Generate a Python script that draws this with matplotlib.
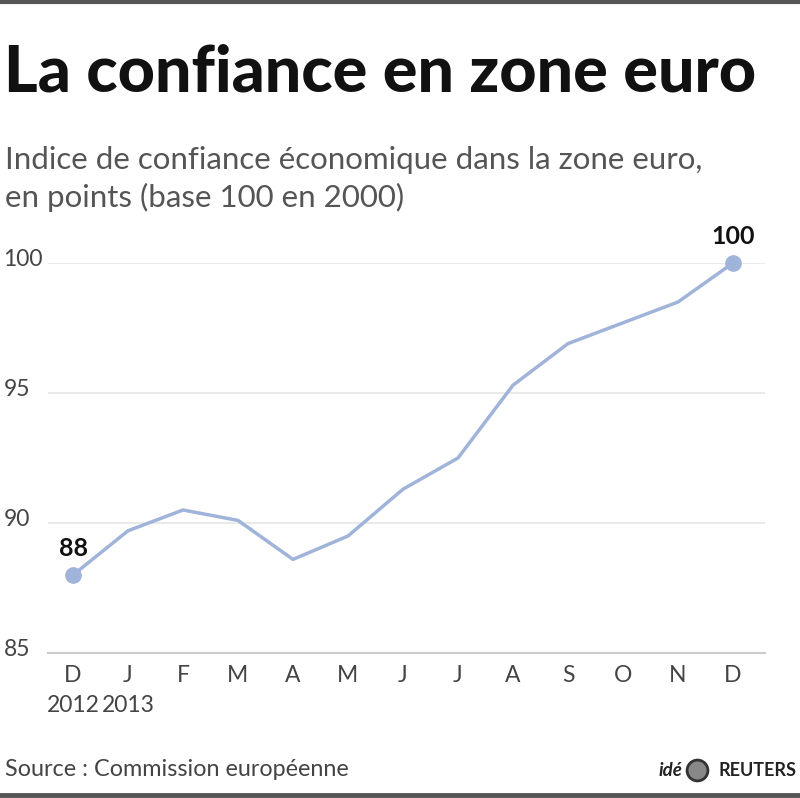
import matplotlib
matplotlib.use('Agg')
import matplotlib.pyplot as plt
import matplotlib.transforms as mtransforms
from matplotlib.lines import Line2D

months = ['D', 'J', 'F', 'M', 'A', 'M', 'J', 'J', 'A', 'S', 'O', 'N', 'D']
years = ['2012', '2013', '', '', '', '', '', '', '', '', '', '', '']
values = [88.0, 89.7, 90.5, 90.1, 88.6, 89.5, 91.3, 92.5, 95.3, 96.9, 97.7, 98.5, 100.0]
yticks = [85, 90, 95, 100]

plt.rcParams['font.family'] = ['Lato', 'DejaVu Sans']

fig = plt.figure(figsize=(8, 7.98), dpi=100)
W, H = 800, 798

# axes placed in pixel terms
left, right, bottom, top = 48, 765, 653, 263
ax = fig.add_axes([left / W, (H - bottom) / H, (right - left) / W, (bottom - top) / H])

x = list(range(len(values)))
line_col = '#a0b4da'
ax.plot(x, values, color=line_col, lw=2.5, solid_joinstyle='round', zorder=3)
ax.plot([x[0], x[-1]], [values[0], values[-1]], 'o', color=line_col, ms=11,
        clip_on=False, zorder=4)

ax.set_xlim(-25 / 55, 12 + 32 / 55)
ax.set_ylim(85, 100)
ax.set_yticks(yticks)
ax.set_yticklabels([str(t) for t in yticks], ha='left')
ax.set_xticks(x)
ax.set_xticklabels([m + ('\n' + y if y else '') for m, y in zip(months, years)],
                   linespacing=1.5)
ax.tick_params(axis='both', length=0, labelsize=16.5, colors='#444444')
ax.tick_params(axis='x', pad=9)
ax.tick_params(axis='y', pad=32)
shift = mtransforms.ScaledTranslation(0, 5 / 100, fig.dpi_scale_trans)
for lab in ax.get_yticklabels():
    lab.set_transform(lab.get_transform() + shift)
ax.grid(axis='y', color='#e6e6e6', lw=1.2)
for s in ['top', 'right', 'left']:
    ax.spines[s].set_visible(False)
ax.spines['bottom'].set_color('#cccccc')
ax.spines['bottom'].set_linewidth(1.5)
ax.set_axisbelow(True)

ax.annotate(f'{values[0]:.0f}', (x[0], values[0]), xytext=(0, 11), textcoords='offset points',
            ha='center', va='bottom', fontsize=18, fontweight='bold', color='#111111')
ax.annotate(f'{values[-1]:.0f}', (x[-1], values[-1]), xytext=(0, 11), textcoords='offset points',
            ha='center', va='bottom', fontsize=18, fontweight='bold', color='#111111')

# titles
fig.text(4 / W, 1 - 73 / H, 'La confiance en zone euro', fontsize=46.5, fontweight='black',
         va='center', ha='left', color='#111111')
fig.text(5 / W, 1 - 160 / H, 'Indice de confiance économique dans la zone euro,',
         fontsize=22.5, va='center', ha='left', color='#555555')
fig.text(5 / W, 1 - 197 / H, 'en points (base 100 en 2000)',
         fontsize=22.5, va='center', ha='left', color='#555555')

fig.text(5 / W, 1 - 770 / H, 'Source : Commission européenne', fontsize=16.8,
         va='center', ha='left', color='#444444')
fig.text(682 / W, 1 - 770 / H, 'idé', fontsize=13.5, fontweight='bold', style='italic',
         va='center', ha='right', color='#222222')
fig.text(796 / W, 1 - 770 / H, 'REUTERS', fontsize=13, fontweight='bold',
         va='center', ha='right', color='#222222')
fig.add_artist(Line2D([697 / W], [1 - 770 / H], marker='o', ms=15, color='#888888',
                      markeredgecolor='#333333', markeredgewidth=2,
                      transform=fig.transFigure))

# top and bottom rules
fig.add_artist(Line2D([0, 1], [1 - 1.5 / H, 1 - 1.5 / H], color='#555555', lw=3,
                      transform=fig.transFigure))
fig.add_artist(Line2D([0, 1], [1 - 795 / H, 1 - 795 / H], color='#555555', lw=3.5,
                      transform=fig.transFigure))

fig.savefig('out.png', dpi=100)
